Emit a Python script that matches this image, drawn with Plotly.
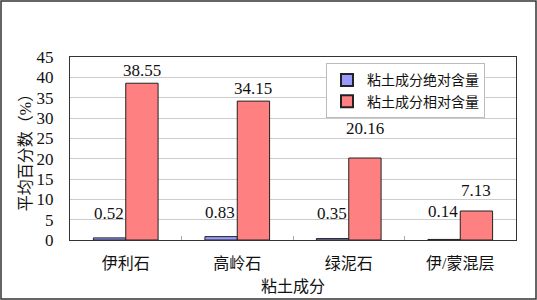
import plotly.graph_objects as go

categories = ["伊利石", "高岭石", "绿泥石", "伊/蒙混层"]
absolute = [0.52, 0.83, 0.35, 0.14]
relative = [38.55, 34.15, 20.16, 7.13]
series_names = ["粘土成分绝对含量", "粘土成分相对含量"]
y_ticks = [0, 5, 10, 15, 20, 25, 30, 35, 40, 45]

# label vertical offsets (px) mimicking the reference label placement
abs_label_shift = [27, 28, 27, 29]
rel_label_shift = [13, 13, 30, 21]

FONT = "Liberation Serif, Noto Sans CJK SC, serif"

fig = go.Figure()
fig.add_bar(x=categories, y=absolute, name=series_names[0],
            marker=dict(color="#9999FF", line=dict(color="#222222", width=1)))
fig.add_bar(x=categories, y=relative, name=series_names[1],
            marker=dict(color="#FF8080", line=dict(color="#222222", width=1)))

ann = []
for i, c in enumerate(categories):
    ann.append(dict(x=c, y=0, text=f"{absolute[i]:.2f}", showarrow=False,
                    xref="x", yref="y", xshift=-17, yshift=abs_label_shift[i],
                    yanchor="middle", font=dict(size=17, color="#111", family=FONT)))
    ann.append(dict(x=c, y=relative[i], text=f"{relative[i]:.2f}", showarrow=False,
                    xref="x", yref="y", xshift=16, yshift=rel_label_shift[i],
                    yanchor="middle", font=dict(size=17, color="#111", family=FONT)))

L, R, T, B = 70, 21, 57, 60
W, H = 537, 300
pw, ph = W - L - R, H - T - B

fig.update_layout(
    width=W, height=H,
    margin=dict(l=L, r=R, t=T, b=B, autoexpand=False),
    paper_bgcolor="white", plot_bgcolor="white",
    barmode="group", bargap=0.42, bargroupgap=0,
    font=dict(family=FONT, size=14, color="#111"),
    annotations=ann,
    showlegend=True,
    legend=dict(x=0.574, y=0.965, xanchor="left", yanchor="top",
                bgcolor="white", bordercolor="#BBBBBB", borderwidth=1,
                font=dict(size=14, family=FONT), itemwidth=30,
                tracegroupgap=0, itemsizing="constant"),
    xaxis=dict(showline=True, linecolor="#333", mirror=True, linewidth=1,
               automargin=False, ticks="inside", tickson="boundaries",
               ticklen=4, tickcolor="#AAAAAA", ticklabelstandoff=9,
               tickfont=dict(size=16, family=FONT),
               title=dict(text="粘土成分", font=dict(size=16, family=FONT), standoff=9)),
    yaxis=dict(range=[0, 45], tickvals=y_ticks, showline=True, linecolor="#333",
               mirror=True, linewidth=1, gridcolor="#CCCCCC", gridwidth=1,
               automargin=False, ticks="", ticklabelstandoff=12,
               tickfont=dict(size=17, family=FONT),
               title=dict(text="平均百分数（%）", font=dict(size=16, family=FONT), standoff=0)),
    shapes=[dict(type="rect", xref="paper", yref="paper",
                 x0=-(L - 1) / pw, x1=1 + (R - 1) / pw,
                 y0=-(B - 1) / ph, y1=1 + (T - 1) / ph,
                 line=dict(color="#333", width=1.5))],
)

fig.write_html("out.html", config={"displayModeBar": False},
               post_script="document.body.style.margin='0';document.body.style.overflow='hidden';")
